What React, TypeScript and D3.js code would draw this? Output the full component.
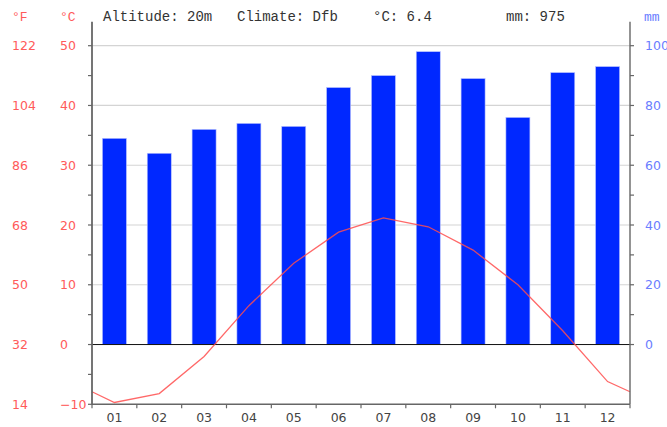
import React, { useEffect, useRef } from 'react'
import * as d3 from 'd3'

const months = ['01', '02', '03', '04', '05', '06', '07', '08', '09', '10', '11', '12']
const precip = [69, 64, 72, 74, 73, 86, 90, 98, 89, 76, 91, 93]
const temps = [-9.7, -8.2, -2.0, 6.5, 13.6, 18.8, 21.2, 19.7, 15.8, 10.0, 2.3, -6.2]
// value of the curve where it meets the left and right axes
const edgeTemp = -7.9
const celsiusTicks = [50, 40, 30, 20, 10, 0, -10]
const fahrenheitTicks = [122, 104, 86, 68, 50, 32, 14]
const mmTicks = [100, 80, 60, 40, 20, 0]
const header = [
    { text: 'Altitude: 20m', x: 103 },
    { text: 'Climate: Dfb', x: 237 },
    { text: '°C: 6.4', x: 373 },
    { text: 'mm: 975', x: 506 },
]

export default function App() {
    const ref = useRef<SVGSVGElement | null>(null)

    const width = 667
    const height = 427
    const left = 92
    const right = 630
    const top = 45.7
    const bottom = 404.3

    function drawChart() {
        var svg = d3.select(ref.current)
        svg.selectAll('*').remove()

        var x = d3.scaleBand().domain(months).range([left, right]).padding(0)
        var yT = d3.scaleLinear().domain([-10, 50]).range([bottom, top])
        var yP = d3.scaleLinear().domain([-20, 100]).range([bottom, top])
        var barW = 24
        var red = '#ff5a5a'
        var blue = '#6a7dff'
        var grey = '#666'

        // grid lines
        svg.append('g')
            .selectAll('line')
            .data([50, 40, 30, 20, 10])
            .enter().append('line')
            .attr('x1', left).attr('x2', right)
            .attr('y1', (d) => yT(d)).attr('y2', (d) => yT(d))
            .attr('stroke', '#d4d4d4')
            .attr('stroke-width', 1.2)

        // bars
        svg.append('g')
            .selectAll('rect')
            .data(precip)
            .enter().append('rect')
            .attr('x', (d, i) => (x(months[i]) as number) + x.bandwidth() / 2 - barW / 2)
            .attr('y', (d) => yP(d))
            .attr('width', barW)
            .attr('height', (d) => yP(0) - yP(d))
            .attr('fill', '#0028ff')
            .attr('stroke', '#b8c2ff')
            .attr('stroke-width', 0.6)

        // zero line
        svg.append('line')
            .attr('x1', left).attr('x2', right)
            .attr('y1', yT(0)).attr('y2', yT(0))
            .attr('stroke', '#111')
            .attr('stroke-width', 1)

        // temperature line
        var pts: [number, number][] = [[left, yT(edgeTemp)]]
        temps.forEach((t, i) => pts.push([(x(months[i]) as number) + x.bandwidth() / 2, yT(t)]))
        pts.push([right, yT(edgeTemp)])
        svg.append('path')
            .attr('d', d3.line()(pts))
            .attr('fill', 'none')
            .attr('stroke', '#ff4d4d')
            .attr('stroke-width', 1.3)
            .attr('opacity', 0.85)

        // axes lines
        var axis = svg.append('g').attr('stroke', grey)
        axis.append('line').attr('x1', left).attr('x2', left).attr('y1', 21.7).attr('y2', bottom).attr('stroke-width', 1.8)
        axis.append('line').attr('x1', right).attr('x2', right).attr('y1', 21.7).attr('y2', bottom).attr('stroke-width', 1.4)
        axis.append('line').attr('x1', left).attr('x2', right).attr('y1', bottom).attr('y2', bottom).attr('stroke-width', 1.4)

        // left ticks every 5 degrees
        var minor = d3.range(-10, 51, 5)
        axis.selectAll('.lt')
            .data(minor)
            .enter().append('line')
            .attr('x1', left - 4).attr('x2', left)
            .attr('y1', (d) => yT(d)).attr('y2', (d) => yT(d))
            .attr('stroke-width', 1.2)
        // right ticks every 10 mm
        axis.selectAll('.rt')
            .data(d3.range(0, 101, 10))
            .enter().append('line')
            .attr('x1', right).attr('x2', right + 4)
            .attr('y1', (d) => yP(d)).attr('y2', (d) => yP(d))
            .attr('stroke-width', 1.2)
        // month ticks
        axis.selectAll('.bt')
            .data(d3.range(0, 13))
            .enter().append('line')
            .attr('x1', (d) => left + d * x.step()).attr('x2', (d) => left + d * x.step())
            .attr('y1', bottom).attr('y2', bottom + 4)
            .attr('stroke-width', 1.2)

        var tickFont = '"DejaVu Sans", sans-serif'

        // °F labels
        svg.append('g')
            .selectAll('text')
            .data(fahrenheitTicks)
            .enter().append('text')
            .attr('x', 12)
            .attr('y', (d, i) => yT(celsiusTicks[i]))
            .attr('dy', '0.36em')
            .attr('fill', red)
            .style('font-family', tickFont)
            .style('font-size', '12.5px')
            .text((d) => d)

        // °C labels
        svg.append('g')
            .selectAll('text')
            .data(celsiusTicks)
            .enter().append('text')
            .attr('x', 60)
            .attr('y', (d) => yT(d))
            .attr('dy', '0.36em')
            .attr('fill', red)
            .style('font-family', tickFont)
            .style('font-size', '12.5px')
            .text((d) => (d < 0 ? '\u2212' + Math.abs(d) : d))

        // mm labels
        svg.append('g')
            .selectAll('text')
            .data(mmTicks)
            .enter().append('text')
            .attr('x', 645)
            .attr('y', (d) => yP(d))
            .attr('dy', '0.36em')
            .attr('fill', blue)
            .style('font-family', tickFont)
            .style('font-size', '12.5px')
            .text((d) => d)

        // month labels
        svg.append('g')
            .selectAll('text')
            .data(months)
            .enter().append('text')
            .attr('x', (d) => (x(d) as number) + x.bandwidth() / 2)
            .attr('y', 417)
            .attr('dy', '0.36em')
            .attr('text-anchor', 'middle')
            .attr('fill', '#444')
            .style('font-family', tickFont)
            .style('font-size', '12.5px')
            .text((d) => d)

        // header
        var monoFont = '"Liberation Mono", monospace'
        svg.append('text').attr('x', 12).attr('y', 20.5).attr('fill', red)
            .style('font-family', monoFont).style('font-size', '13px').text('°F')
        svg.append('text').attr('x', 60).attr('y', 20.5).attr('fill', red)
            .style('font-family', monoFont).style('font-size', '13px').text('°C')
        svg.append('text').attr('x', 644).attr('y', 20.5).attr('fill', blue)
            .style('font-family', monoFont).style('font-size', '13px').text('mm')
        svg.append('g')
            .selectAll('text')
            .data(header)
            .enter().append('text')
            .attr('x', (d) => d.x)
            .attr('y', 20.5)
            .attr('fill', '#333')
            .style('font-family', monoFont)
            .style('font-size', '14px')
            .text((d) => d.text)
    }

    useEffect(() => {
        drawChart()
    }, [])

    return (
        <svg
            ref={ref}
            width={width}
            height={height}
            style={{ position: 'absolute', left: 0, top: 0, background: '#fff' }}
        />
    )
}
